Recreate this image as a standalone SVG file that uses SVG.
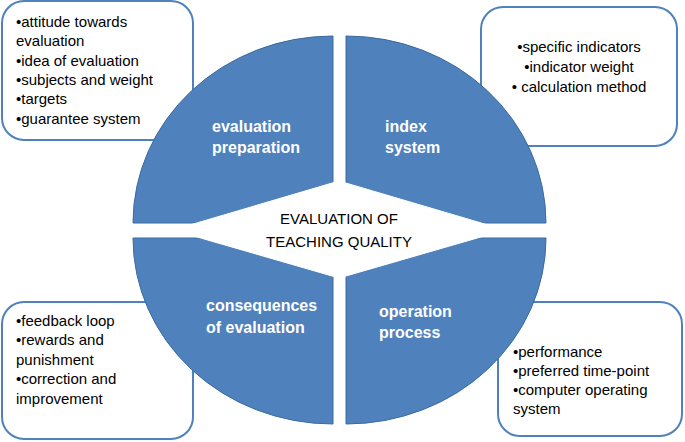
<svg xmlns="http://www.w3.org/2000/svg" width="685" height="442" viewBox="0 0 685 442">
<style>
.box{fill:#fff;stroke:#4f81bd;stroke-width:2}
.q{fill:#4f81bd;stroke:#3b6a9f;stroke-width:1}
.t{font-family:"Liberation Sans",Arial,sans-serif;font-size:15px;fill:#000}
.ql{font-family:"Liberation Sans",Arial,sans-serif;font-size:16px;font-weight:bold;fill:#fff}
.c{font-family:"Liberation Sans",Arial,sans-serif;font-size:15px;fill:#000;text-anchor:middle}
</style>
<rect width="685" height="442" fill="#fff"/>
<g id="box-preparation">
<rect class="box" x="2" y="1" width="191" height="139" rx="22"/>
<text class="t" x="16" y="27">•attitude towards</text>
<text class="t" x="16" y="46">evaluation</text>
<text class="t" x="16" y="66">•idea of evaluation</text>
<text class="t" x="16" y="85">•subjects and weight</text>
<text class="t" x="16" y="104">•targets</text>
<text class="t" x="16" y="124">•guarantee system</text>
</g>
<g id="box-index">
<rect class="box" x="481" y="7" width="196" height="139" rx="22"/>
<text class="c" x="579" y="52">•specific indicators</text>
<text class="c" x="579" y="72">•indicator weight</text>
<text class="c" x="579" y="92">• calculation method</text>
</g>
<g id="box-consequences">
<rect class="box" x="2" y="302" width="191" height="137" rx="22"/>
<text class="t" x="16" y="326">•feedback loop</text>
<text class="t" x="16" y="345">•rewards and</text>
<text class="t" x="16" y="365">punishment</text>
<text class="t" x="16" y="384">•correction and</text>
<text class="t" x="16" y="404">improvement</text>
</g>
<g id="box-operation">
<rect class="box" x="498" y="302" width="184" height="134" rx="22"/>
<text class="t" x="513" y="357">•performance</text>
<text class="t" x="513" y="376">•preferred time-point</text>
<text class="t" x="513" y="395">•computer operating</text>
<text class="t" x="513" y="414">system</text>
</g>
<g id="q-preparation">
<path class="q" d="M333,223 L333,36 A200,187 0 0 0 133,223 Z"/>
<text class="ql" x="212" y="132">evaluation</text>
<text class="ql" x="212" y="153">preparation</text>
</g>
<g id="q-index">
<path class="q" d="M346,223 L346,36 A200,187 0 0 1 546,223 Z"/>
<text class="ql" x="385" y="132">index</text>
<text class="ql" x="385" y="153">system</text>
</g>
<g id="q-consequences">
<path class="q" d="M333,238 L333,424 A200,186 0 0 1 133,238 Z"/>
<text class="ql" x="206" y="311">consequences</text>
<text class="ql" x="206" y="333">of evaluation</text>
</g>
<g id="q-operation">
<path class="q" d="M346,238 L346,424 A200,186 0 0 0 546,238 Z"/>
<text class="ql" x="379" y="317">operation</text>
<text class="ql" x="379" y="338">process</text>
</g>
<g id="center">
<polygon points="339,181 505,230 339,278 173,230" fill="#fff" stroke="#fff" stroke-width="1"/>
<text class="c" x="339" y="224">EVALUATION OF</text>
<text class="c" x="339" y="247">TEACHING QUALITY</text>
</g>
<g id="connectors"></g>
</svg>
